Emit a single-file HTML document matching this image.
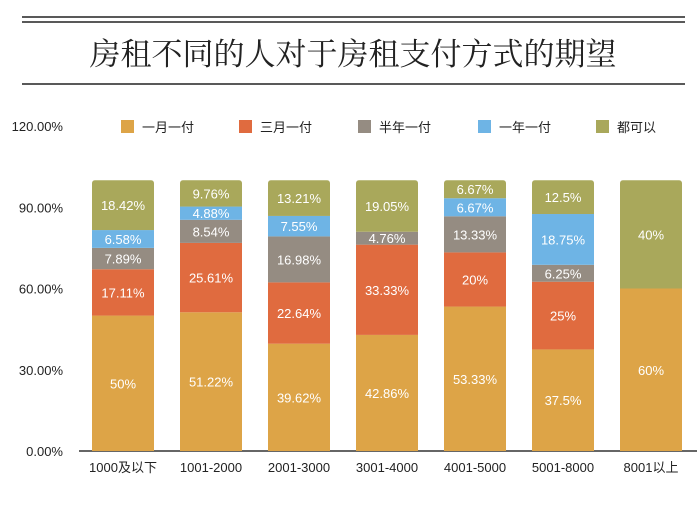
<!DOCTYPE html>
<html><head><meta charset="utf-8"><style>
body{margin:0;background:#fff;}
svg{display:block;font-family:"Liberation Sans","Noto Sans CJK SC",sans-serif;}
</style></head><body>
<svg id="chart" width="700" height="506">
<line x1="22" y1="17" x2="685" y2="17" stroke="#222" stroke-width="1.5"/>
<line x1="22" y1="22" x2="685" y2="22" stroke="#222" stroke-width="1.5"/>
<line x1="22" y1="84" x2="685" y2="84" stroke="#222" stroke-width="1.5"/>
<text x="353" y="65" text-anchor="middle" font-size="31" fill="#222" style="font-family:'Noto Serif CJK SC',serif">房租不同的人对于房租支付方式的期望</text>
<g id="legend"></g>
<g id="axis"></g>
<g id="bars"></g>
</svg>
<script>
const categories=["1000及以下","1001-2000","2001-3000","3001-4000","4001-5000","5001-8000","8001以上"];
const seriesNames=["一月一付","三月一付","半年一付","一年一付","都可以"];
const s1=[50,51.22,39.62,42.86,53.33,37.5,60];
const s2=[17.11,25.61,22.64,33.33,20,25,0];
const s3=[7.89,8.54,16.98,4.76,13.33,6.25,0];
const s4=[6.58,4.88,7.55,0,6.67,18.75,0];
const s5=[18.42,9.76,13.21,19.05,6.67,12.5,40];
const labels1=["50%","51.22%","39.62%","42.86%","53.33%","37.5%","60%"];
const labels2=["17.11%","25.61%","22.64%","33.33%","20%","25%",""];
const labels3=["7.89%","8.54%","16.98%","4.76%","13.33%","6.25%",""];
const labels4=["6.58%","4.88%","7.55%","","6.67%","18.75%",""];
const labels5=["18.42%","9.76%","13.21%","19.05%","6.67%","12.5%","40%"];
const yTicks=[0,30,60,90,120];
const yTickLabels=["0.00%","30.00%","60.00%","90.00%","120.00%"];
const colors=["#DDA447","#E06B3F","#958C82","#6EB4E5","#A9A85B"];
const NS="http://www.w3.org/2000/svg";
const svg=document.getElementById('chart');
const y0=451,yTop=126,yMax=120;
const y=v=>y0-v/yMax*(y0-yTop);
const xStart=92,step=88,bw=62;
const x=i=>xStart+i*step;
function el(t,a,p){const e=document.createElementNS(NS,t);for(const k in a)e.setAttribute(k,a[k]);p.appendChild(e);return e;}
const ax=document.getElementById('axis');
yTicks.forEach((t,i)=>{const tx=el('text',{x:63,y:y(t)+5,'text-anchor':'end','font-size':13,fill:'#222'},ax);tx.textContent=yTickLabels[i];

});
const series=[s1,s2,s3,s4,s5],labs=[labels1,labels2,labels3,labels4,labels5];
const bg=document.getElementById('bars');
categories.forEach((c,i)=>{
  let cum=0;
  const total=series.reduce((a,s)=>a+s[i],0);
  const clip=el('clipPath',{id:'c'+i},bg);
  el('rect',{x:x(i),y:y(total),width:bw,height:y0-y(total)+5,rx:3},clip);
  const g=el('g',{'clip-path':'url(#c'+i+')'},bg);
  series.forEach((s,k)=>{
    const v=s[i];if(v<=0)return;
    const r=el('rect',{x:x(i),y:y(cum+v),width:bw,height:y(cum)-y(cum+v),fill:colors[k]},g);
    
    
    const lt=labs[k][i];
    if(lt){const t=el('text',{x:x(i)+bw/2,y:(y(cum)+y(cum+v))/2+5,'text-anchor':'middle','font-size':13,fill:'#fff'},bg);t.textContent=lt;
    
    }
    cum+=v;
  });
  const xl=el('text',{x:x(i)+bw/2,y:472,'text-anchor':'middle','font-size':13,fill:'#222'},ax);xl.textContent=c;
  
  
});
const al=el('line',{x1:79,y1:y0,x2:697,y2:y0,stroke:'#333','stroke-width':1.5},ax);


const lg=document.getElementById('legend');
const lx=[121,239,358,478,596];
seriesNames.forEach((n,k)=>{
  const r=el('rect',{x:lx[k],y:120,width:13,height:13,fill:colors[k]},lg);
  
  
  const t=el('text',{x:lx[k]+21,y:132,'font-size':13,fill:'#222'},lg);t.textContent=n;
  
  
});
</script>
</body></html>
